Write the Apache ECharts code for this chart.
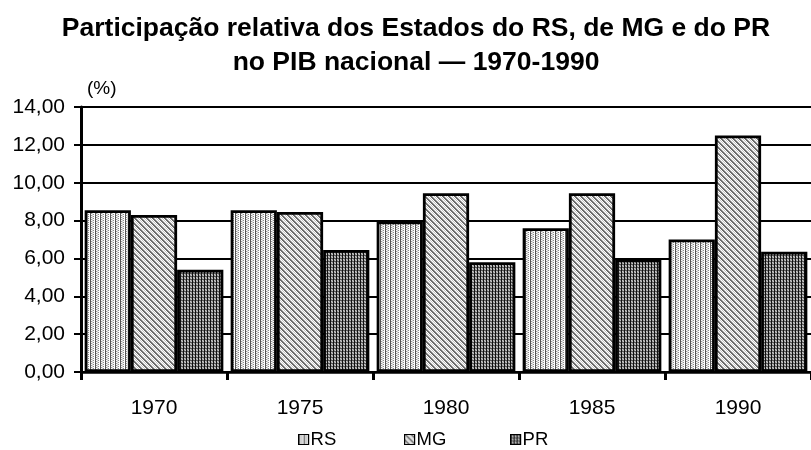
<!DOCTYPE html>
<html><head><meta charset="utf-8">
<script src="https://cdn.jsdelivr.net/npm/echarts@6/dist/echarts.min.js"></script>
<style>html,body{margin:0;padding:0;background:#fff}#c{width:811px;height:450px}</style>
</head><body><div id="c"></div>
<script>
const titleText = 'Participação relativa dos Estados do RS, de MG e do PR\nno PIB nacional — 1970-1990';
const unitLabel = '(%)';
const categories = ['1970', '1975', '1980', '1985', '1990'];
const seriesNames = ['RS', 'MG', 'PR'];
const rsValues = [8.55, 8.55, 7.95, 7.6, 7.0];
const mgValues = [8.3, 8.45, 9.45, 9.45, 12.5];
const prValues = [5.4, 6.45, 5.8, 5.95, 6.35];
const yMin = 0, yMax = 14, yStep = 2;

const FONT = '"Liberation Sans", Arial, Helvetica, sans-serif';

function tile(w, h, fn) {
  const c = document.createElement('canvas');
  c.width = w; c.height = h;
  const ctx = c.getContext('2d');
  for (let y = 0; y < h; y++) for (let x = 0; x < w; x++) {
    ctx.fillStyle = fn(x, y); ctx.fillRect(x, y, 1, 1);
  }
  return c;
}
const rsTile = tile(5, 2, (x, y) => {
  if (x === 0) return '#555';
  if (x === 1) return y === 0 ? '#fff' : '#999';
  if (x === 2) return '#d8d8d8';
  if (x === 3) return y === 0 ? '#8a8a8a' : '#fff';
  return '#fff';
});
const mgTile = tile(6, 6, (x, y) => {
  const d = ((x - y) % 6 + 6) % 6;
  if (d === 0 || d === 1) return '#6a6a6a';
  return (x + y) % 2 ? '#fff' : '#c4c4c4';
});
const prTile = tile(3, 3, (x, y) => {
  if (x === 0) return '#111';
  if (y === 0) return '#555';
  return (x + y) % 2 ? '#999' : '#c8c8c8';
});
const patterns = [rsTile, mgTile, prTile];
const dataSets = [rsValues, mgValues, prValues];

const chart = echarts.init(document.getElementById('c'), null, { renderer: 'canvas' });
const legendLefts = [298, 404, 510];

const option = {
  backgroundColor: '#fff',
  animation: false,
  title: [
    { text: titleText, left: 416, top: 12, padding: 0, textAlign: 'center',
      textStyle: { fontFamily: FONT, fontWeight: 'bold', fontSize: 26.5, lineHeight: 34, color: '#000' } },
    { text: unitLabel, left: 87, top: 79, padding: 0,
      textStyle: { fontFamily: FONT, fontWeight: 'normal', fontSize: 19, color: '#000' } }
  ],
  legend: seriesNames.map((n, i) => ({
    data: [n], left: legendLefts[i], top: 430, padding: 0,
    icon: 'rect', itemWidth: 10, itemHeight: 10,
    itemStyle: { borderColor: '#000', borderWidth: 1.2 },
    textStyle: { fontFamily: FONT, fontSize: 18.5, color: '#000', padding: [0, 0, 0, -3] }
  })),
  grid: { left: 81, top: 107, width: 733, height: 265, containLabel: false },
  xAxis: {
    type: 'category', data: categories,
    axisLine: { show: true, lineStyle: { color: '#000', width: 2.5 } },
    axisTick: { show: true, length: 8, lineStyle: { color: '#000', width: 3 } },
    axisLabel: { fontFamily: FONT, fontSize: 21, color: '#000', margin: 26 },
    splitLine: { show: false }
  },
  yAxis: {
    type: 'value', min: yMin, max: yMax, interval: yStep,
    axisLine: { show: true, lineStyle: { color: '#000', width: 3 } },
    axisTick: { show: true, length: 7, lineStyle: { color: '#000', width: 2 } },
    axisLabel: { fontFamily: FONT, fontSize: 21, color: '#000', margin: 16,
      formatter: v => v.toFixed(2).replace('.', ',') },
    splitLine: { show: true, lineStyle: { color: '#000', width: 2 } }
  },
  series: seriesNames.map((n, i) => ({
    name: n, type: 'bar', data: dataSets[i],
    barGap: '0%', barCategoryGap: '5%',
    itemStyle: { color: { image: patterns[i], repeat: 'repeat' }, borderColor: '#000', borderWidth: 2.8 }
  }))
};
chart.setOption(option);
</script></body></html>
